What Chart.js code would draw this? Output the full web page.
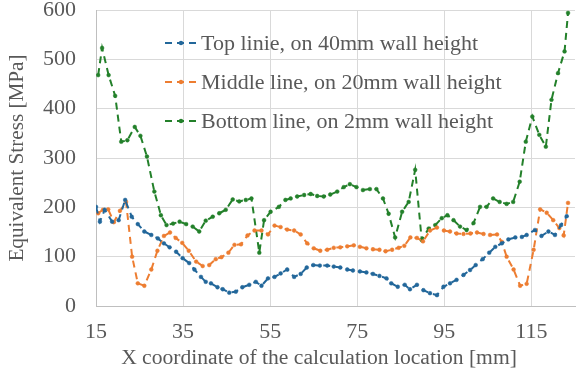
<!DOCTYPE html>
<html>
<head>
<meta charset="utf-8">
<script src="https://cdn.jsdelivr.net/npm/chart.js@4.4.1/dist/chart.umd.min.js"></script>
<style>
  html, body { margin: 0; padding: 0; background: #ffffff; }
  #wrap { width: 580px; height: 376px; }
</style>
</head>
<body>
<div id="wrap"><canvas id="c" width="580" height="376"></canvas></div>
<script>
// Equivalent stress along three measuring lines of the wall
const seriesLabels = [
  'Top linie, on 40mm wall height',
  'Middle line, on 20mm wall height',
  'Bottom line, on 2mm wall height'
];
const xTitle = 'X coordinate of the calculation location [mm]';
const yTitle = 'Equivalent Stress [MPa]';

// X coordinate of each calculation location [mm]
const topX = [15.0,15.9,17.0,18.7,20.2,21.7,23.2,24.6,26.1,27.7,29.2,30.6,31.9,33.4,34.9,36.4,37.6,39.1,40.2,41.4,42.9,44.1,45.6,47.1,48.6,50.2,51.7,53.0,54.5,56.0,57.4,58.9,60.5,62.0,63.4,64.9,66.4,68.1,69.6,71.1,72.7,74.0,75.6,77.1,78.6,80.1,81.7,82.8,84.3,85.9,87.1,88.7,90.2,91.7,93.3,94.8,96.3,97.8,99.4,100.9,102.2,103.8,105.3,106.7,108.2,109.7,111.3,112.8,113.9,115.8,117.3,118.9,120.4,121.8,123.1];
const topY = [201,171,195,171,174,215,181,166,151,144,137,127,119,110,97,87,74,59,49,46,38,34,27,29,38,43,49,41,56,59,66,74,59,65,78,83,82,82,80,78,74,72,70,68,65,61,56,46,39,43,34,43,32,26,22,39,46,53,63,73,83,95,108,120,127,135,139,140,144,154,142,151,144,164,182];

const middleX = [15.5,16.6,17.8,19.1,20.5,21.9,23.3,24.6,26.1,27.7,29.1,30.6,32.0,33.3,34.8,36.3,38.0,39.5,41.0,42.5,43.8,45.4,46.8,48.3,49.8,51.4,53.0,54.5,56.0,57.4,58.9,60.5,62.0,63.5,65.0,66.5,68.1,69.6,71.1,72.7,74.2,75.6,77.1,78.6,80.1,81.5,83.0,84.5,85.8,87.2,88.7,90.1,91.7,93.3,94.9,96.3,97.8,99.4,101.0,102.5,104.0,105.5,107.1,108.2,109.3,110.9,112.4,113.9,115.5,117.0,118.5,120.0,121.4,122.4,123.4];
const middleY = [188,195,196,170,193,211,100,46,41,74,112,142,149,138,128,112,90,81,83,95,99,108,124,125,143,153,153,145,163,160,155,153,145,127,117,112,114,118,119,121,123,120,117,115,114,111,114,118,122,139,138,131,153,159,153,151,147,146,147,149,146,144,145,130,100,74,41,45,114,196,189,174,158,143,209];

const bottomX = [15.5,16.4,17.9,19.4,20.8,22.2,23.9,25.2,26.7,28.4,29.9,31.2,32.7,34.2,35.7,37.2,38.7,40.2,41.8,43.3,44.8,46.4,47.9,49.4,50.7,52.5,53.6,55.1,57.0,58.5,59.7,61.2,62.8,64.3,65.8,67.3,68.8,70.4,71.9,73.3,74.8,76.3,77.9,79.4,80.9,82.2,83.7,85.3,86.8,88.3,89.8,91.4,92.9,94.4,95.7,97.1,98.6,100.1,101.7,103.2,104.7,106.2,107.7,109.3,110.8,112.3,113.7,115.2,116.8,118.3,119.6,121.1,122.6,123.4];
const bottomY = [468,523,468,426,333,336,363,345,303,232,184,164,167,171,166,161,151,173,181,188,195,216,212,215,218,108,174,191,201,215,218,222,225,227,223,222,226,232,241,247,241,235,237,237,218,187,139,191,211,276,134,157,164,178,184,174,161,154,168,201,201,218,211,207,211,252,333,384,347,323,418,472,516,594];

const xTicks = [15, 35, 55, 75, 95, 115];
const yTicks = [0, 100, 200, 300, 400, 500, 600];

const colors = ['#22679A', '#ED7D31', '#23802A'];
const textColor = '#595959';
const fontFamily = '"Liberation Serif", "Times New Roman", serif';

function pts(xs, ys) { return xs.map((x, i) => ({ x: x, y: ys[i] })); }

function lineSet(label, data, color) {
  return {
    label: label,
    data: data,
    borderColor: color,
    backgroundColor: color,
    pointBackgroundColor: color,
    pointBorderColor: color,
    borderWidth: 2,
    borderDash: [7, 5],
    pointRadius: 1.9,
    pointBorderWidth: 0.5,
    pointHoverRadius: 1.9,
    tension: 0,
    fill: false
  };
}

// Legend drawn inside the plot area, one row per series
const legendSpot = { x: 165, y: 43, rowGap: 39, lineLen: 32, textX: 201 };
const insideLegend = {
  id: 'insideLegend',
  afterDatasetsDraw(chart) {
    const ctx = chart.ctx;
    chart.data.datasets.forEach((ds, i) => {
      const y = legendSpot.y + i * legendSpot.rowGap;
      ctx.save();
      ctx.strokeStyle = ds.borderColor;
      ctx.lineWidth = ds.borderWidth;
      ctx.setLineDash(ds.borderDash);
      ctx.beginPath();
      ctx.moveTo(legendSpot.x, y);
      ctx.lineTo(legendSpot.x + legendSpot.lineLen, y);
      ctx.stroke();
      ctx.setLineDash([]);
      ctx.fillStyle = ds.pointBackgroundColor;
      ctx.beginPath();
      ctx.arc(legendSpot.x + legendSpot.lineLen / 2, y, ds.pointRadius + 0.3, 0, Math.PI * 2);
      ctx.fill();
      ctx.fillStyle = textColor;
      ctx.font = '22px ' + fontFamily;
      ctx.textBaseline = 'middle';
      ctx.textAlign = 'left';
      ctx.fillText(ds.label, legendSpot.textX, y + 1);
      ctx.restore();
    });
  }
};

// X axis title, set a little left of the plot centre
const xTitlePlugin = {
  id: 'xTitle',
  afterDraw(chart) {
    const ctx = chart.ctx;
    ctx.save();
    ctx.fillStyle = textColor;
    ctx.font = '21.6px ' + fontFamily;
    ctx.textAlign = 'center';
    ctx.textBaseline = 'middle';
    ctx.fillText(xTitle, 319, 358);
    ctx.restore();
  }
};

new Chart(document.getElementById('c'), {
  type: 'line',
  data: {
    datasets: [
      lineSet(seriesLabels[0], pts(topX, topY), colors[0]),
      lineSet(seriesLabels[1], pts(middleX, middleY), colors[1]),
      lineSet(seriesLabels[2], pts(bottomX, bottomY), colors[2])
    ]
  },
  options: {
    responsive: false,
    animation: false,
    devicePixelRatio: 1,
    layout: { padding: { top: 10, right: 5, left: 0, bottom: 0 } },
    plugins: {
      legend: { display: false },
      tooltip: { enabled: false }
    },
    scales: {
      x: {
        type: 'linear',
        min: 15,
        max: 125,
        afterBuildTicks(scale) { scale.ticks = xTicks.map(v => ({ value: v })); },
        afterFit(scale) { scale.height = 70; scale.paddingLeft = 0; scale.paddingRight = 0; },
        grid: { color: '#D9D9D9', lineWidth: 1, drawTicks: false },
        border: { color: '#BFBFBF', width: 1 },
        ticks: {
          color: textColor,
          font: { family: fontFamily, size: 22 },
          padding: 13,
          maxRotation: 0,
          autoSkip: false
        },
        title: { display: false }
      },
      y: {
        min: 0,
        max: 600,
        afterBuildTicks(scale) { scale.ticks = yTicks.map(v => ({ value: v })); },
        afterFit(scale) { scale.width = 96; scale.paddingTop = 0; scale.paddingBottom = 0; },
        grid: { color: '#D9D9D9', lineWidth: 1, drawTicks: false },
        border: { color: '#BFBFBF', width: 1 },
        ticks: {
          color: textColor,
          font: { family: fontFamily, size: 22 },
          padding: 20
        },
        title: {
          display: true,
          text: yTitle,
          color: textColor,
          font: { family: fontFamily, size: 21.2 },
          padding: { top: 5, bottom: 0 }
        }
      }
    }
  },
  plugins: [insideLegend, xTitlePlugin]
});
</script>
</body>
</html>
